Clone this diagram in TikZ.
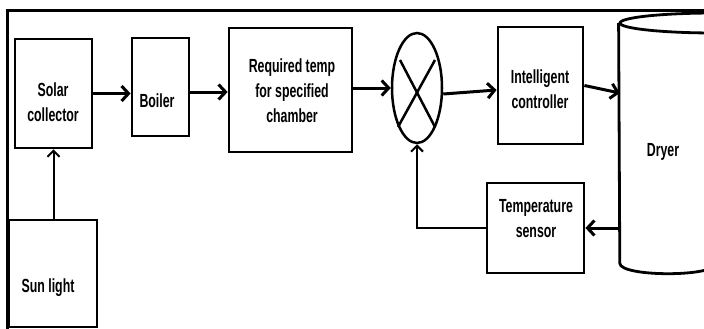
\documentclass[tikz,border=0pt]{standalone}
\usepackage{fontspec}
\setmainfont{Liberation Sans}[FakeStretch=0.65]
\usetikzlibrary{arrows.meta,shapes.geometric,calc}
\begin{document}
\begin{tikzpicture}[x=1pt,y=-1pt,
  box/.style={draw, line width=2.8pt, inner sep=0pt},
  lbl/.style={align=center, font=\fontsize{19}{25}\selectfont\bfseries, inner sep=0pt},
  arr/.style={line width=3pt, -{Straight Barb[length=7pt,width=15pt]}},
  thinarr/.style={line width=2pt, -{Straight Barb[length=6pt,width=12pt]}}]
\useasboundingbox (0,0) rectangle (704,329);
\clip (0,0) rectangle (704,329);
% frame
\draw[line width=3pt] (7,335) -- (7,11) -- (710,11);
% boxes
\node[box, minimum width=77pt, minimum height=109pt] (sc) at (53.5,93.5) {};
\node[box, minimum width=57pt, minimum height=98pt] (boil) at (160.5,87) {};
\node[box, minimum width=123pt, minimum height=124pt] (req) at (290.5,90) {};
\node[draw, ellipse, line width=2.5pt, minimum width=50pt, minimum height=110pt, inner sep=0pt] (sum) at (417,88) {};
\node[box, minimum width=85pt, minimum height=117pt] (ic) at (540.5,85.5) {};
\node[box, minimum width=97pt, minimum height=90pt] (ts) at (535.5,228) {};
\node[box, minimum width=88pt, minimum height=107pt] (sl) at (53,273.5) {};
% dryer cylinder
\node[minimum width=96pt, minimum height=240pt, inner sep=0pt] (dryer) at (668,143) {};
\node[draw, ellipse, line width=2.8pt, minimum width=190pt, minimum height=20pt, inner sep=0pt] (dtop) at (715,23) {};
\draw[line width=2.8pt] (dtop.west) -- (dryer.south west)
  .. controls ($(dryer.south west)+(0,14)$) and ($(dryer.south east)+(0,14)$) .. (dryer.south east);
% X in summing junction
\draw[line width=2.5pt] ([shift={(-17,-28)}]sum.center) -- ([shift={(18,39)}]sum.center);
\draw[line width=2.5pt] ([shift={(18,-28)}]sum.center) -- ([shift={(-19,39)}]sum.center);
% labels
\node[lbl] (tsc) at (53,102) {Solar\\collector};
\node[lbl] (tboil) at (157,101) {Boiler};
\node[lbl] (treq) at (292,91) {Required temp\\for specified\\chamber};
\node[lbl] (tic) at (540,89.5) {Intelligent\\controller};
\node[lbl] (tdry) at (663,152) {Dryer};
\node[lbl] (tts) at (536,218.5) {Temperature\\sensor};
\node[lbl] (tsl) at (48,288) {Sun light};
% connectors
\draw[arr] (sc.east) -- (sc.east -| boil.west);
\draw[arr] ([yshift=-5pt]boil.east) -- ([yshift=-5pt]boil.east -| req.west);
\draw[arr] (req.east |- sum.west) -- (sum.west);
\draw[arr] ([yshift=-6pt]sum.east) -- ([yshift=-4.5pt]ic.west);
\draw[arr] (ic.east) -- ([yshift=50pt]dryer.west);
\draw[arr] (dryer.west |- ts.east) -- (ts.east);
\draw[thinarr] (ts.west) -| (sum.south);
\draw[thinarr] (sc.south |- sl.north) -- (sc.south);
\end{tikzpicture}
\end{document}
